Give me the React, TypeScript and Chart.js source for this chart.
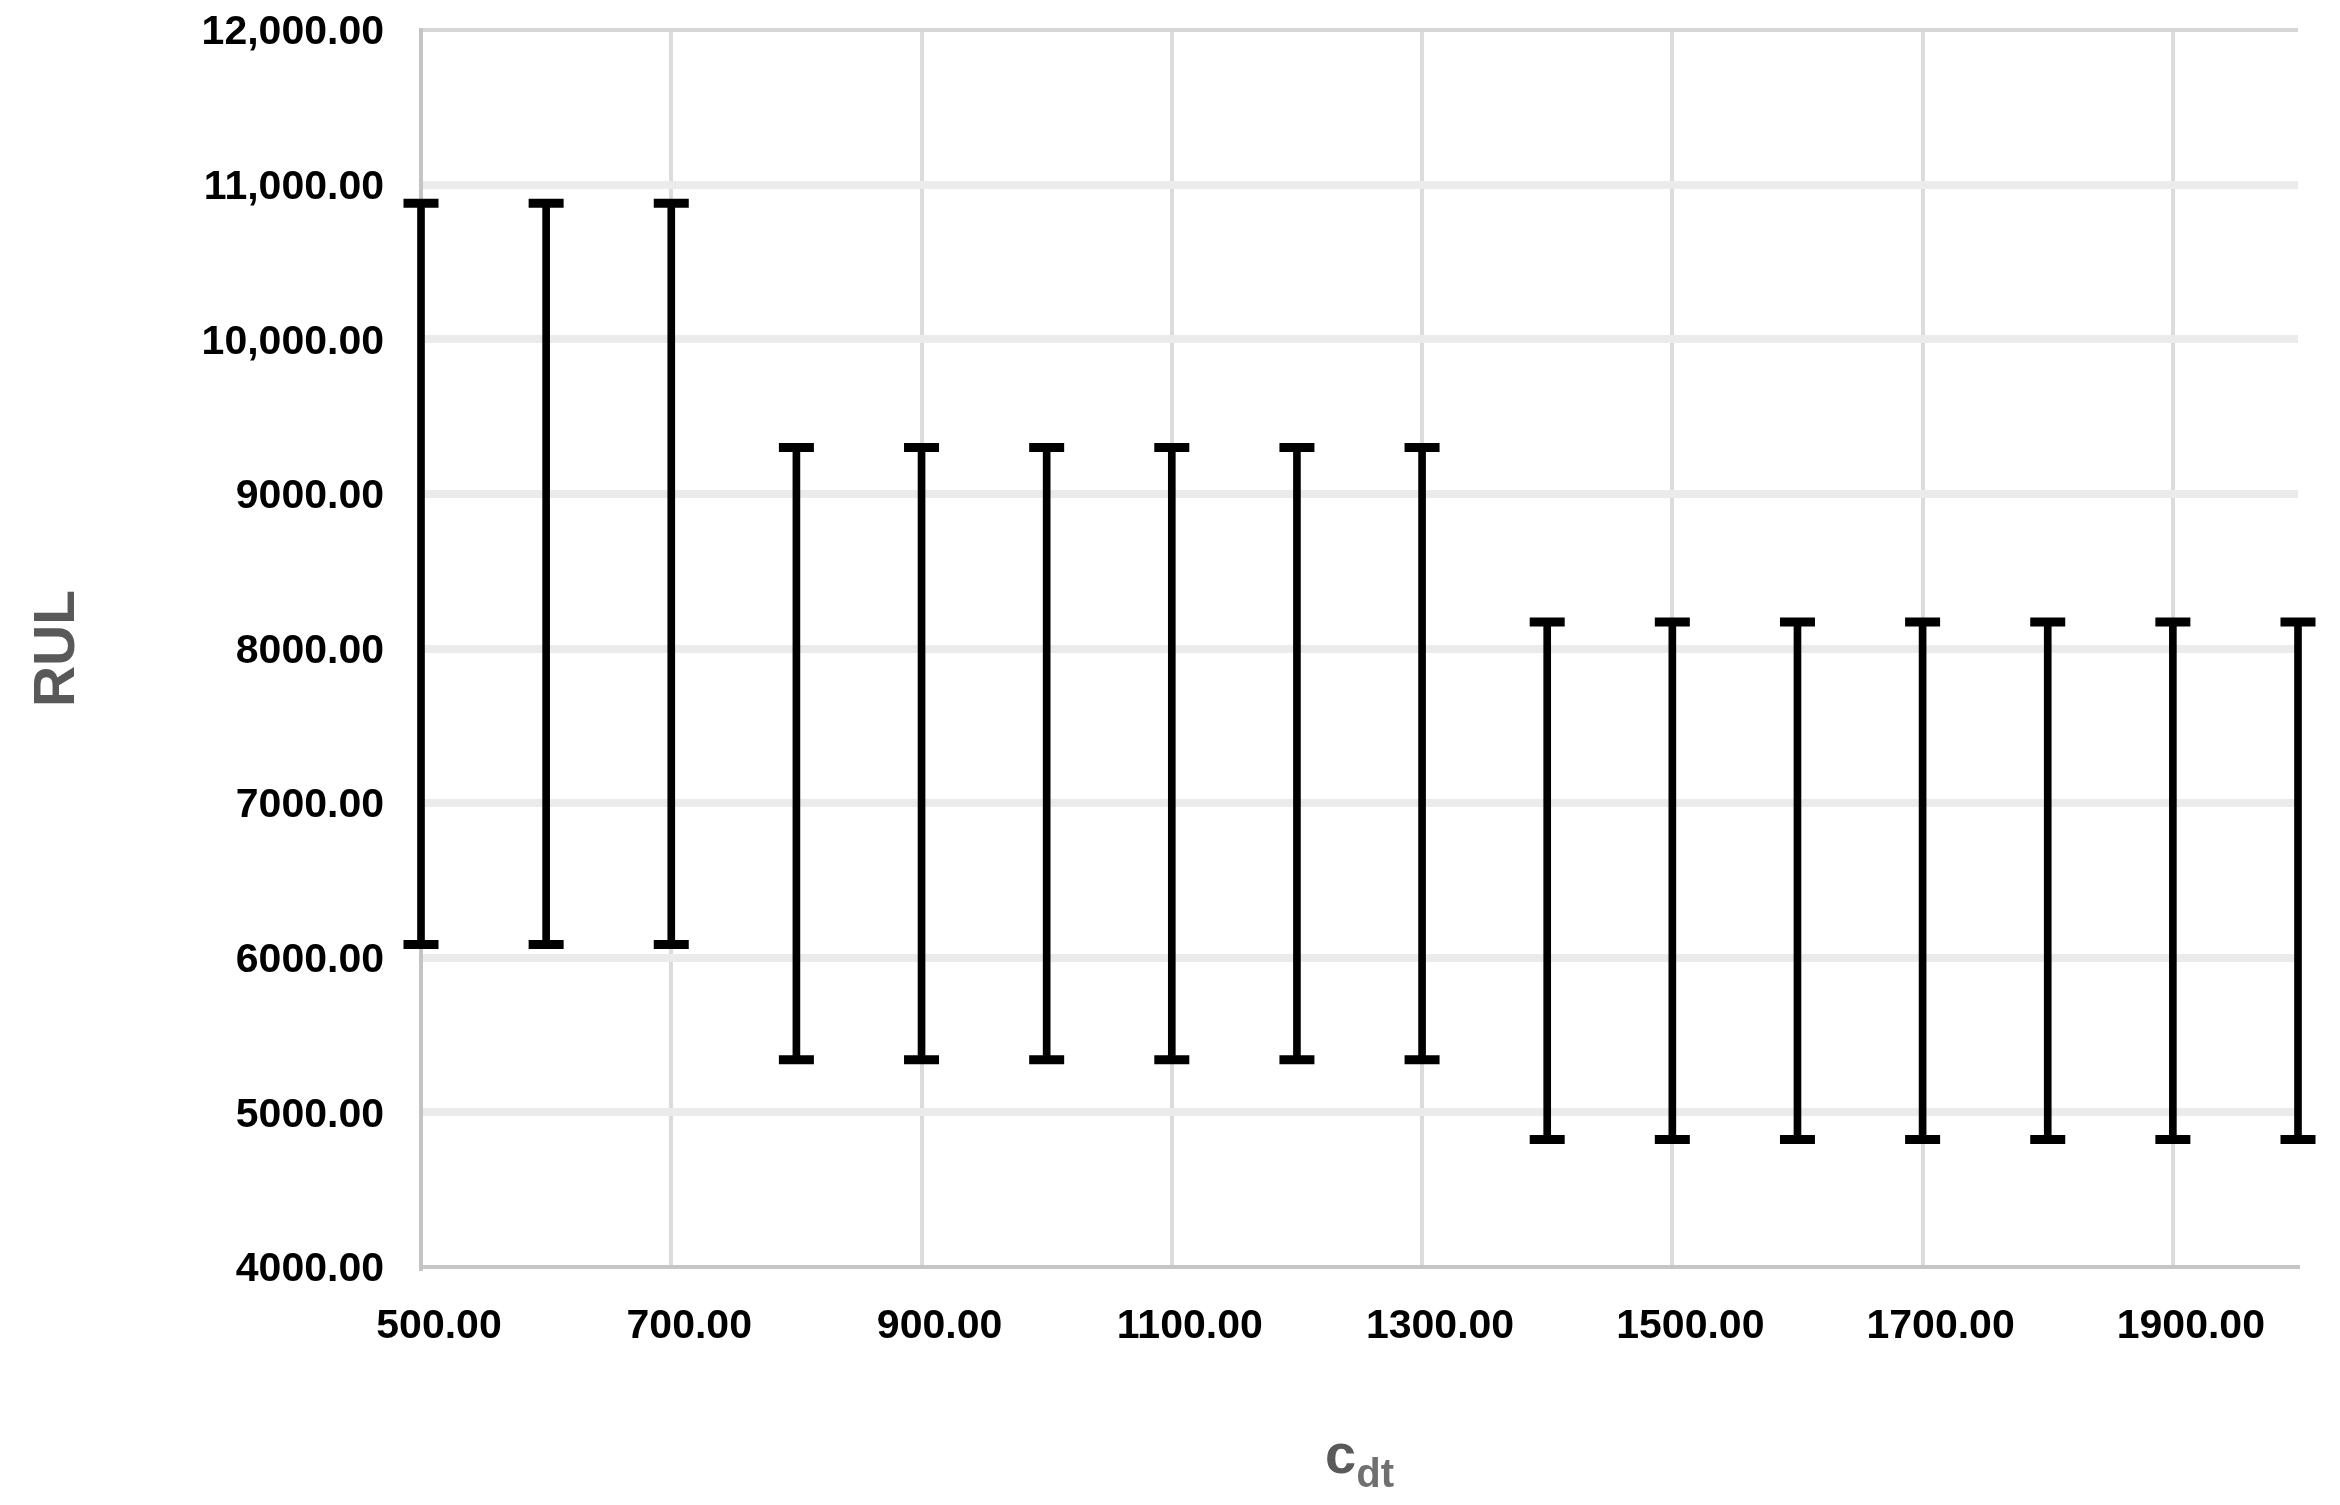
import React, { useEffect, useRef } from "react";
import { Chart, registerables } from "chart.js";

Chart.register(...registerables);

// ---- data ----
const C_DT = [500, 600, 700, 800, 900, 1000, 1100, 1200, 1300, 1400, 1500, 1600, 1700, 1800, 1900, 2000];
const RUL_LOW = [6085, 6085, 6085, 5340, 5340, 5340, 5340, 5340, 5340, 4825, 4825, 4825, 4825, 4825, 4825, 4825];
const RUL_HIGH = [10880, 10880, 10880, 9300, 9300, 9300, 9300, 9300, 9300, 8172, 8172, 8172, 8172, 8172, 8172, 8172];
const X_TICKS = [500, 700, 900, 1100, 1300, 1500, 1700, 1900];
const Y_MIN = 4000;
const Y_MAX = 12000;
const Y_STEP = 1000;
const X_MIN = 500;
const X_MAX = 2000;
const Y_TITLE = "RUL";
const X_TITLE_MAIN = "c";
const X_TITLE_SUB = "dt";

const FONT = '"Liberation Sans", Arial, Helvetica, sans-serif';

function fmtY(v: number): string {
  const fixed = Number(v).toFixed(2);
  if (Math.abs(v) < 10000) return fixed;
  const [int, dec] = fixed.split(".");
  return int.replace(/\B(?=(\d{3})+(?!\d))/g, ",") + "." + dec;
}

const xTitlePlugin = {
  id: "xTitleSub",
  afterDraw(chart: any) {
    const { ctx, chartArea } = chart;
    ctx.save();
    const mainFont = `bold 56px ${FONT}`;
    const subFont = `bold 40px ${FONT}`;
    ctx.font = mainFont;
    const w1 = ctx.measureText(X_TITLE_MAIN).width;
    ctx.font = subFont;
    const w2 = ctx.measureText(X_TITLE_SUB).width;
    const cx = (chartArea.left + chartArea.right) / 2;
    const x0 = cx - (w1 + w2) / 2;
    ctx.textAlign = "left";
    ctx.textBaseline = "alphabetic";
    ctx.font = mainFont;
    ctx.fillStyle = "#5a5a5a";
    ctx.fillText(X_TITLE_MAIN, x0, chartArea.bottom + 206);
    ctx.font = subFont;
    ctx.fillStyle = "#707070";
    ctx.fillText(X_TITLE_SUB, x0 + w1, chartArea.bottom + 220);
    ctx.restore();
  },
};

export default function App() {
  const ref = useRef<HTMLCanvasElement>(null);

  useEffect(() => {
    if (!ref.current) return;
    const barData = C_DT.map((x, i) => ({ x, y: [RUL_LOW[i], RUL_HIGH[i]] }));
    const highData = C_DT.map((x, i) => ({ x, y: RUL_HIGH[i] }));
    const lowData = C_DT.map((x, i) => ({ x, y: RUL_LOW[i] }));

    const capStyle = {
      type: "scatter" as const,
      pointStyle: "line",
      pointRadius: 17.5,
      pointHoverRadius: 17.5,
      pointBorderWidth: 9,
      borderWidth: 9,
      pointBorderColor: "#000",
      borderColor: "#000",
      backgroundColor: "#000",
      showLine: false,
      clip: false as any,
    };

    const chart = new Chart(ref.current, {
      type: "bar",
      data: {
        datasets: [
          {
            type: "bar",
            label: "range",
            data: barData as any,
            backgroundColor: "#000",
            borderWidth: 0,
            barThickness: 7,
            clip: false as any,
          } as any,
          { ...capStyle, label: "high", data: highData } as any,
          { ...capStyle, label: "low", data: lowData } as any,
        ],
      },
      options: {
        responsive: false,
        animation: false,
        devicePixelRatio: 1,
        layout: { padding: { top: 30, right: 42, bottom: 0, left: 0 } },
        plugins: {
          legend: { display: false },
          tooltip: { enabled: false },
          title: { display: false },
        },
        scales: {
          x: {
            type: "linear",
            min: X_MIN,
            max: X_MAX,
            offset: false,
            afterBuildTicks: (s: any) => {
              s.ticks = X_TICKS.map((v) => ({ value: v }));
            },
            afterFit: (s: any) => {
              s.height = 238;
              s.paddingLeft = 0;
              s.paddingRight = 0;
            },
            grid: {
              offset: false,
              drawTicks: false,
              color: (c: any) => (c.tick && c.tick.value === X_MIN ? "rgba(0,0,0,0)" : "#dcdcdc"),
              lineWidth: 4,
            },
            border: { display: true, color: "#c6c6c6", width: 4 },
            ticks: {
              color: "#000",
              font: { family: FONT, size: 41, weight: "bold" },
              padding: 35,
              labelOffset: 18,
              maxRotation: 0,
              minRotation: 0,
              autoSkip: false,
              callback: (v: any) => Number(v).toFixed(2),
            },
          },
          y: {
            type: "linear",
            min: Y_MIN,
            max: Y_MAX,
            afterFit: (s: any) => {
              s.width = 421;
              s.paddingTop = 0;
              s.paddingBottom = 0;
            },
            grid: {
              z: -1,
              drawTicks: false,
              color: (c: any) => {
                const v = c.tick ? c.tick.value : null;
                if (v === Y_MAX) return "#d6d6d6";
                if (v === Y_MIN) return "rgba(0,0,0,0)";
                return "#ebebeb";
              },
              lineWidth: (c: any) => (c.tick && c.tick.value === Y_MAX ? 4 : 8),
            },
            border: { display: true, color: "#c4c4c4", width: 4 },
            ticks: {
              stepSize: Y_STEP,
              color: "#000",
              font: { family: FONT, size: 41, weight: "bold" },
              padding: 37,
              labelOffset: 3,
              callback: (v: any) => fmtY(Number(v)),
            },
            title: {
              display: true,
              text: Y_TITLE,
              color: "#595959",
              font: { family: FONT, size: 57, weight: "bold", lineHeight: 1.2 },
              padding: { top: 24, bottom: 0 },
            },
          },
        },
      } as any,
      plugins: [xTitlePlugin],
    });
    return () => chart.destroy();
  }, []);

  return (
    <div style={{ position: "absolute", left: 0, top: 0, width: 2340, height: 1505, background: "#fff" }}>
      <canvas ref={ref} width={2340} height={1505} style={{ display: "block", width: 2340, height: 1505 }} />
    </div>
  );
}
